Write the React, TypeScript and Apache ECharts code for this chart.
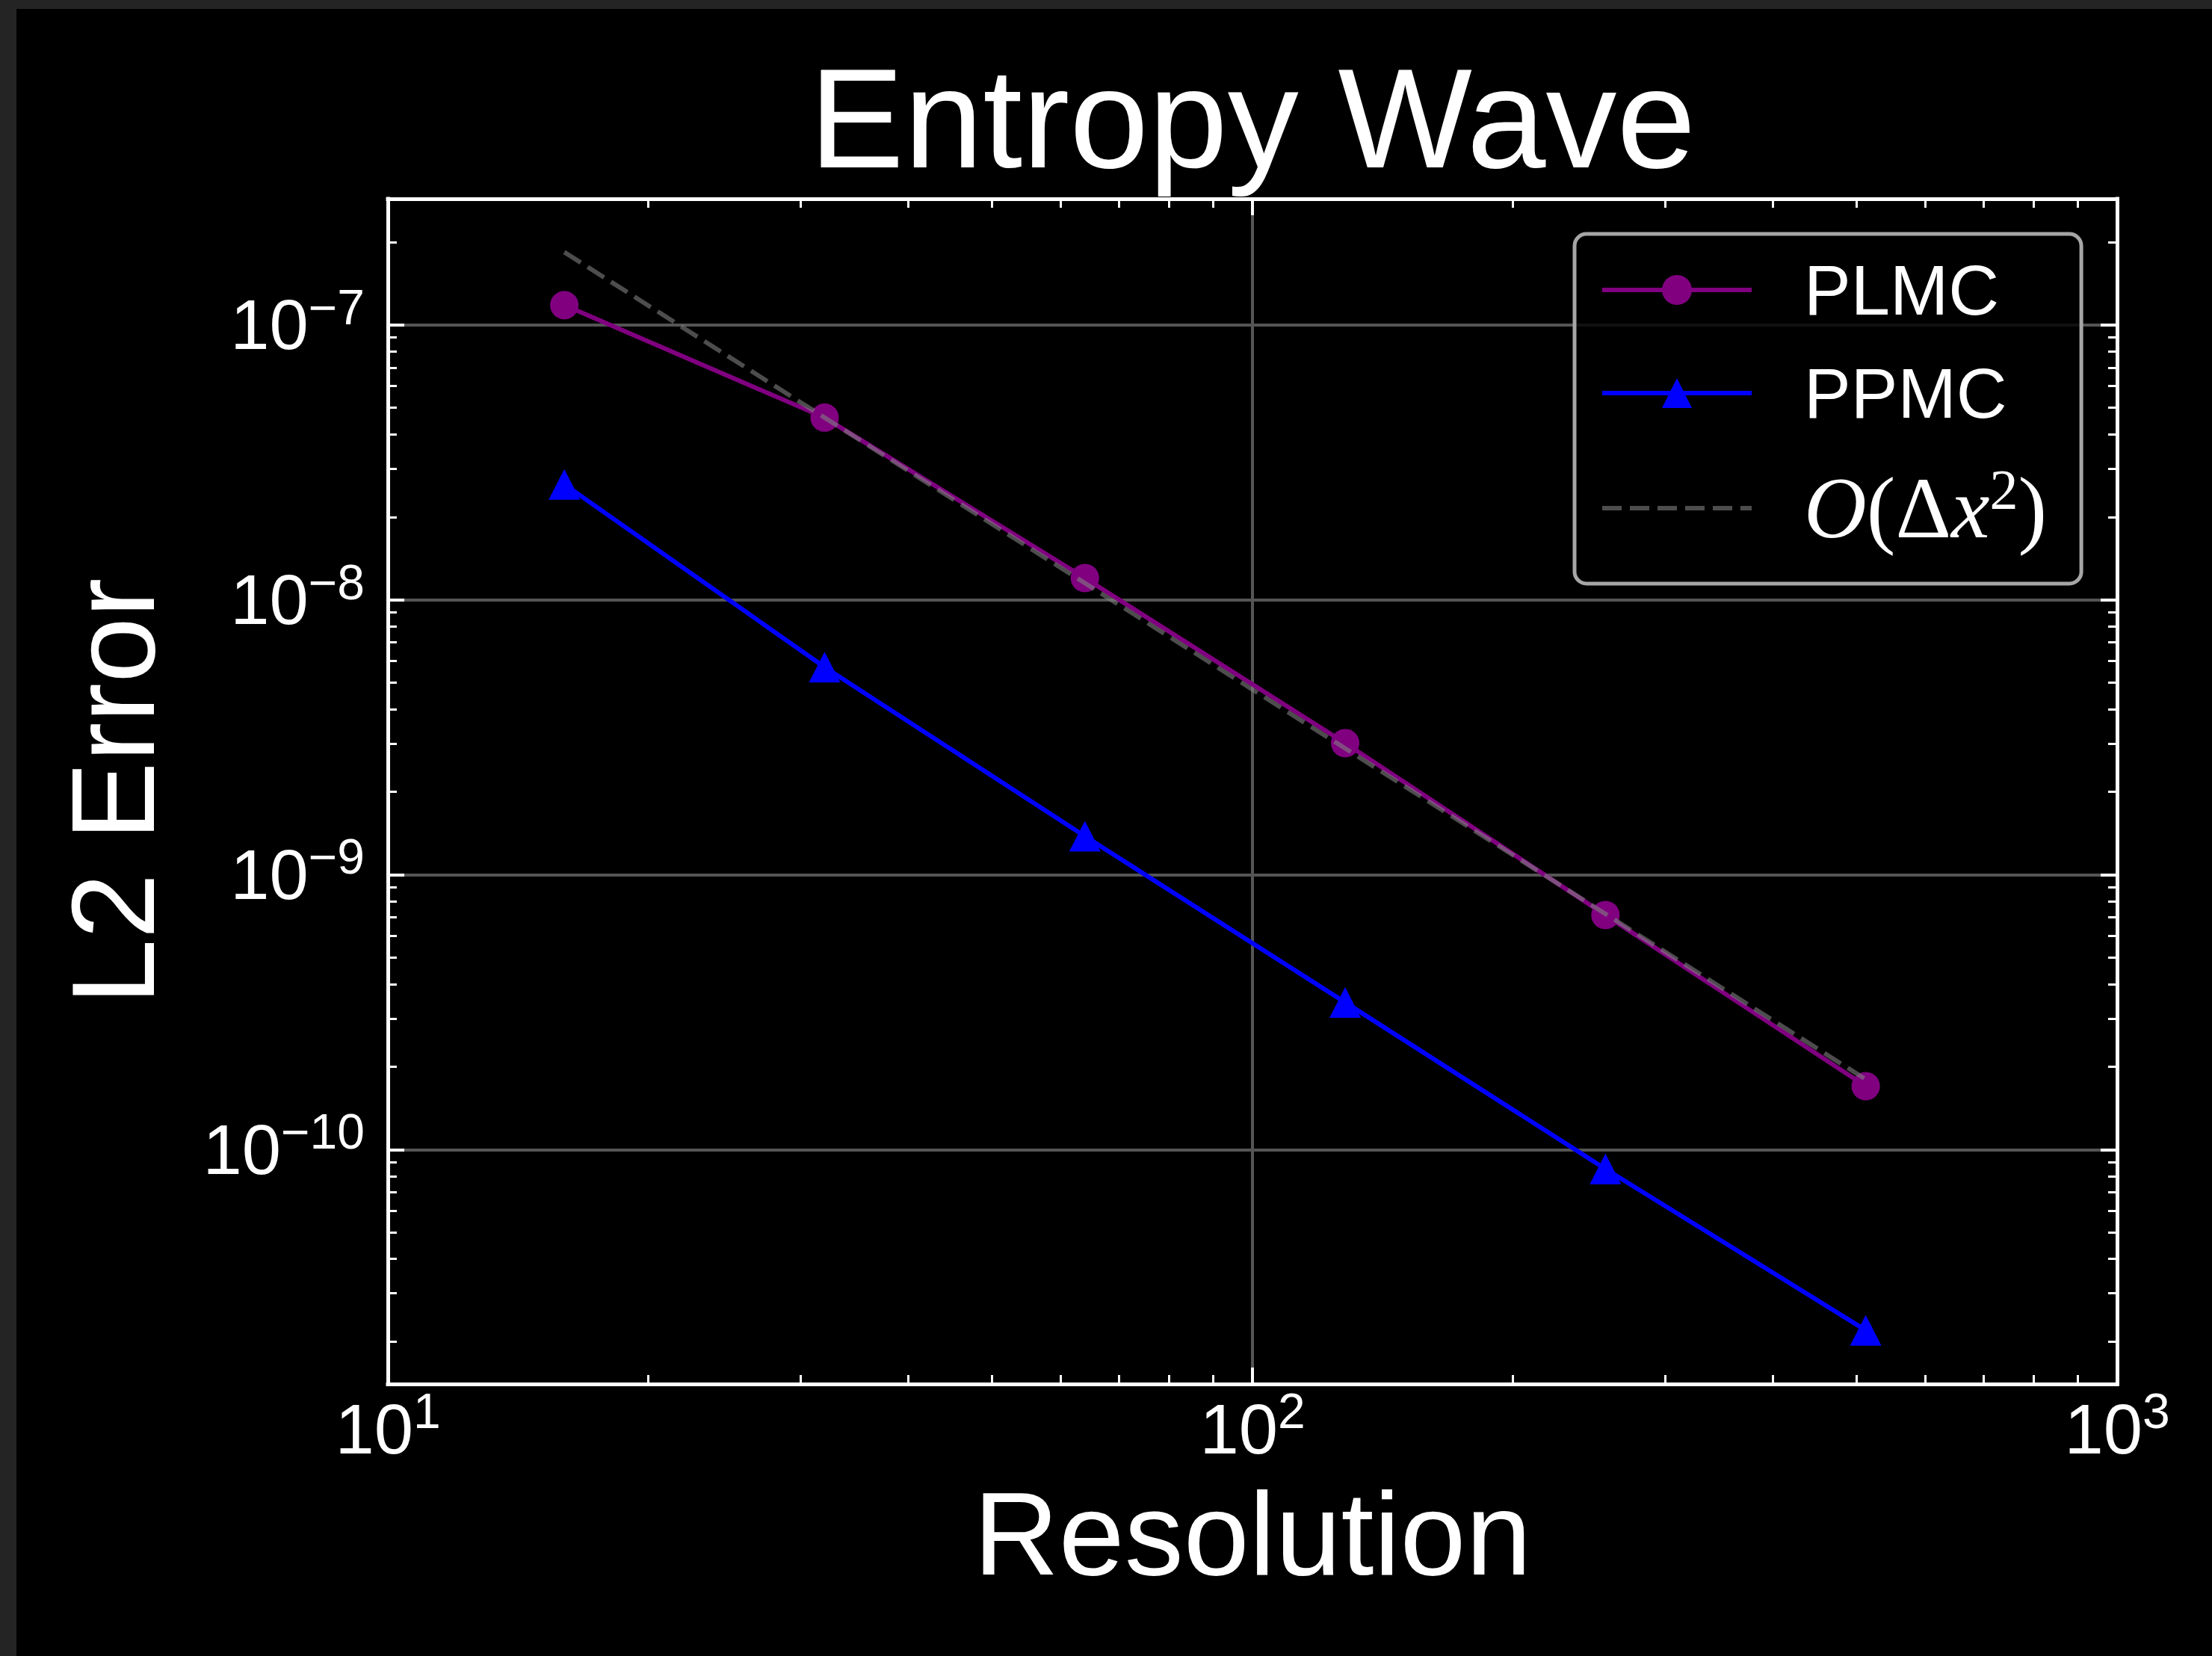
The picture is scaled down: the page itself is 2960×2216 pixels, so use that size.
import React, { useEffect, useRef } from "react";
import * as echarts from "echarts";

// ---------- data ----------
const resolution = [16, 32, 64, 128, 256, 512];
const plmcError = [1.18e-7, 4.6e-8, 1.2e-8, 3.01e-9, 7.13e-10, 1.7e-10];
const ppmcError = [2.63e-8, 5.69e-9, 1.38e-9, 3.43e-10, 8.5e-11, 2.2e-11];
const secondOrderRef = [1.84e-7, 4.6e-8, 1.15e-8, 2.88e-9, 7.2e-10, 1.8e-10];

const xMajorTicks = [10, 100, 1000];
const yMajorTicks = [1e-10, 1e-9, 1e-8, 1e-7];
const X_MIN = 10;
const X_MAX = 1000;
const Y_MIN = 1.403e-11;
const Y_MAX = 2.877e-7;

const TITLE = "Entropy Wave";
const X_NAME = "Resolution";
const Y_NAME = "L2 Error";
const REF_NAME = "𝒪(Δx²)";

// ---------- helpers ----------
const FONT = "'Liberation Sans', Arial, Helvetica, sans-serif";
const SERIF = "'Liberation Serif', 'DejaVu Serif', serif";

function minorTicks(lo: number, hi: number, eLo: number, eHi: number) {
  const out: number[] = [];
  for (let e = eLo; e <= eHi; e++) {
    for (let m = 2; m <= 9; m++) {
      const v = Number((m * Math.pow(10, e)).toPrecision(6));
      if (v > lo && v < hi) out.push(v);
    }
  }
  return out;
}
const xMinorTicks = minorTicks(X_MIN, X_MAX, 1, 2);
const yMinorTicks = minorTicks(Y_MIN, Y_MAX, -11, -7);

const powFmt = (v: number) => {
  const e = Math.round(Math.log10(v));
  return `{b|10}{s|${e < 0 ? "\u2212" : ""}${Math.abs(e)}}`;
};
const labelRich = {
  b: { fontSize: 94, lineHeight: 114, fontFamily: FONT, color: "#fff", verticalAlign: "middle" },
  s: { fontSize: 66, lineHeight: 66, fontFamily: FONT, color: "#fff", verticalAlign: "top" },
};

const WHITE = "#ffffff";
const GRID_COLOR = "#555555";

function majorAxis(kind: "x" | "y", position: string, withLabels: boolean) {
  const isX = kind === "x";
  const ticks = isX ? xMajorTicks : yMajorTicks;
  const ax: any = {
    type: "log",
    logBase: 10,
    gridIndex: 0,
    position,
    min: isX ? X_MIN : Y_MIN,
    max: isX ? X_MAX : Y_MAX,
    axisLine: { show: true, onZero: false, lineStyle: { color: WHITE, width: 5, cap: "square" } },
    axisTick: { show: true, inside: true, length: 22, lineStyle: { color: WHITE, width: 4 }, customValues: ticks },
    minorTick: { show: false },
    splitLine: withLabels ? { show: true, lineStyle: { color: GRID_COLOR, width: 4 } } : { show: false },
    axisLabel: withLabels
      ? {
          show: true,
          customValues: ticks,
          margin: isX ? 3 : 31,
          formatter: powFmt,
          rich: labelRich,
          color: WHITE,
        }
      : { show: false },
  };
  if (withLabels) {
    ax.name = isX ? X_NAME : Y_NAME;
    ax.nameLocation = "middle";
    ax.nameGap = isX ? 121 : 289;
    ax.nameTextStyle = { color: WHITE, fontSize: 158, fontFamily: FONT, fontWeight: "normal" };
  }
  return ax;
}

function minorAxis(kind: "x" | "y", position: string) {
  const isX = kind === "x";
  return {
    type: "log",
    logBase: 10,
    gridIndex: 1,
    position,
    min: isX ? X_MIN : Y_MIN,
    max: isX ? X_MAX : Y_MAX,
    axisLine: { show: false, onZero: false },
    axisTick: {
      show: true,
      inside: true,
      length: 12,
      lineStyle: { color: WHITE, width: 3 },
      customValues: isX ? xMinorTicks : yMinorTicks,
    },
    minorTick: { show: false },
    splitLine: { show: false },
    axisLabel: { show: false },
  };
}

const pairs = (ys: number[]) => resolution.map((x, i) => [x, ys[i]]);

export default function App() {
  const ref = useRef<HTMLDivElement>(null);

  useEffect(() => {
    if (!ref.current) return;
    const chart = echarts.init(ref.current, null, { renderer: "svg" });

    const gridRect = { left: 497, top: 254, width: 2314, height: 1586, containLabel: false, outerBoundsMode: "none" };

    const option: any = {
      animation: false,
      backgroundColor: "#000000",
      textStyle: { fontFamily: FONT },
      title: {
        text: TITLE,
        left: 1654,
        top: 51,
        padding: 0,
        textAlign: "center",
        textVerticalAlign: "top",
        textStyle: { color: WHITE, fontSize: 190, fontWeight: "normal", fontFamily: FONT, lineHeight: 190 },
      },
      grid: [{ ...gridRect }, { ...gridRect }],
      xAxis: [majorAxis("x", "bottom", true), majorAxis("x", "top", false), minorAxis("x", "bottom"), minorAxis("x", "top")],
      yAxis: [majorAxis("y", "left", true), majorAxis("y", "right", false), minorAxis("y", "left"), minorAxis("y", "right")],
      legend: {
        orient: "vertical",
        left: 2085,
        top: 301,
        padding: [28, 46, 43, 34],
        itemGap: 44,
        itemWidth: 200,
        itemHeight: 50,
        backgroundColor: "rgba(0,0,0,0.8)",
        borderColor: "#a6a6a6",
        borderWidth: 5,
        borderRadius: 16,
        selectedMode: false,
        data: ["PLMC", "PPMC", REF_NAME],
        lineStyle: { width: 6 },
        formatter: (name: string) =>
          name === REF_NAME ? "{sp| }{o|O}{p|(}{d|Δ}{x|x}{s|2}{p|)}" : `{sp| }{t|${name}}`,
        textStyle: {
          color: WHITE,
          fontFamily: FONT,
          fontSize: 94,
          rich: {
            sp: { width: 65, fontSize: 94, lineHeight: 100 },
            t: { fontSize: 94, lineHeight: 100, fontFamily: FONT, color: WHITE },
            o: { fontSize: 116, lineHeight: 126, fontFamily: SERIF, fontStyle: "italic", color: WHITE },
            p: { fontSize: 116, lineHeight: 126, fontFamily: SERIF, color: WHITE },
            d: { fontSize: 116, lineHeight: 126, fontFamily: SERIF, color: WHITE },
            x: { fontSize: 116, lineHeight: 126, fontFamily: SERIF, fontStyle: "italic", color: WHITE },
            s: { fontSize: 76, lineHeight: 80, fontFamily: SERIF, color: WHITE, verticalAlign: "top" },
          },
        },
      },
      series: [
        {
          name: "PLMC",
          type: "line",
          xAxisIndex: 0,
          yAxisIndex: 0,
          data: pairs(plmcError),
          symbol: "circle",
          symbolSize: 38,
          lineStyle: { color: "#800080", width: 6 },
          itemStyle: { color: "#800080" },
          z: 3,
        },
        {
          name: "PPMC",
          type: "line",
          xAxisIndex: 0,
          yAxisIndex: 0,
          data: pairs(ppmcError),
          symbol: "triangle",
          symbolSize: [42, 41],
          lineStyle: { color: "#0000ff", width: 6 },
          itemStyle: { color: "#0000ff" },
          z: 3,
        },
        {
          name: REF_NAME,
          type: "line",
          xAxisIndex: 0,
          yAxisIndex: 0,
          data: pairs(secondOrderRef),
          symbol: "none",
          showSymbol: false,
          lineStyle: { color: "rgba(128,128,128,0.6)", width: 6, type: [26, 11] },
          itemStyle: { color: "rgba(0,0,0,0)" },
          z: 4,
        },
      ],
    };

    chart.setOption(option);
    return () => chart.dispose();
  }, []);

  return (
    <div
      style={{
        position: "fixed",
        left: 0,
        top: 0,
        width: 2960,
        height: 2216,
        background: "#242424",
        overflow: "hidden",
      }}
    >
      <div ref={ref} style={{ position: "absolute", left: 22, top: 12, width: 2938, height: 2204 }} />
    </div>
  );
}
